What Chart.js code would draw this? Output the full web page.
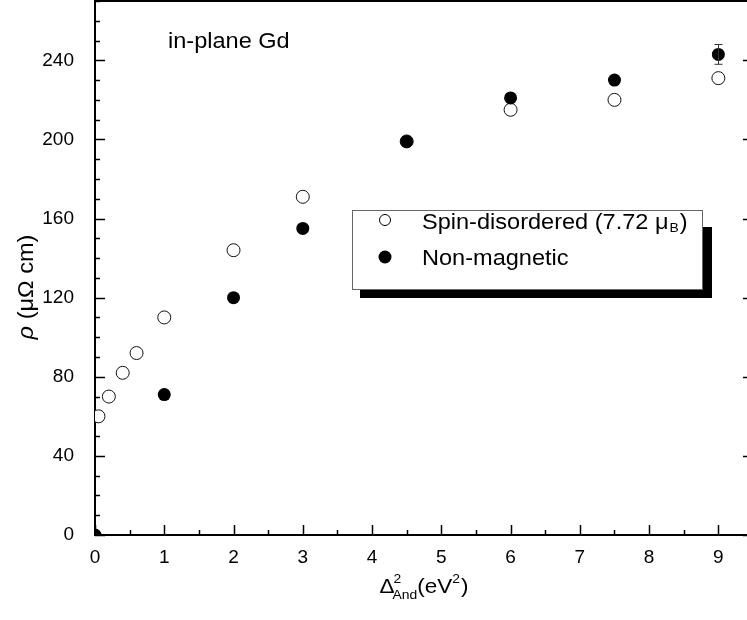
<!DOCTYPE html>
<html>
<head>
<meta charset="utf-8">
<script src="https://cdn.jsdelivr.net/npm/chart.js@4.4.1/dist/chart.umd.min.js"></script>
<style>
  html, body { margin: 0; padding: 0; background: #fff; overflow: hidden; }
  #wrap { width: 747px; height: 620px; overflow: hidden; position: relative; }
  #box { width: 760px; height: 620px; }
</style>
</head>
<body>
<div id="wrap"><div id="box"><canvas id="c"></canvas></div></div>
<script>
// spin-disordered (open circles)
const spinX = [0.05, 0.2, 0.4, 0.6, 1, 2, 3, 4.5, 6, 7.5, 9];
const spinY = [60, 70, 82, 92, 110, 144, 171, 199, 215, 220, 231];
// non-magnetic (filled circles)
const nmX = [0, 1, 2, 3, 4.5, 6, 7.5, 9];
const nmY = [0, 71, 120, 155, 199, 221, 230, 243];
const nmErr = [0, 0, 0, 0, 0, 0, 0, 5];
// tick labels
const xTicks = [0, 1, 2, 3, 4, 5, 6, 7, 8, 9];
const yTicks = [0, 40, 80, 120, 160, 200, 240];

const FONT = "'Liberation Sans', Arial, sans-serif";
const SX = 1.07; // the original lettering is a bit wider than Arial

function pts(xs, ys) { return xs.map((v, i) => ({ x: v, y: ys[i] })); }

// draw text slightly stretched, returns advance width
function txt(ctx, s, x, y, font) {
  ctx.font = font;
  const w = ctx.measureText(s).width * SX;
  ctx.save();
  ctx.translate(x, y);
  ctx.scale(SX, 1);
  ctx.fillText(s, 0, 0);
  ctx.restore();
  return w;
}
function tw(ctx, s, font) { ctx.font = font; return ctx.measureText(s).width * SX; }

const decor = {
  id: 'decor',
  beforeDatasetsDraw(chart) {
    const { ctx, chartArea: a, scales: { x, y } } = chart;
    ctx.save();
    ctx.strokeStyle = '#000';
    ctx.lineWidth = 2;
    ctx.strokeRect(a.left, a.top, a.right - a.left, a.bottom - a.top);
    ctx.lineWidth = 1.5;
    ctx.beginPath();
    for (let v = 0; v <= 9.5 + 1e-9; v += 0.5) {
      const px = Math.round(x.getPixelForValue(v)) + 0.5;
      const len = Number.isInteger(v) ? 10 : 5;
      ctx.moveTo(px, a.bottom); ctx.lineTo(px, a.bottom - len);
    }
    for (let v = 0; v <= 270; v += 10) {
      const py = Math.round(y.getPixelForValue(v)) + 0.5;
      const len = v % 40 === 0 ? 10 : 5;
      ctx.moveTo(a.left, py); ctx.lineTo(a.left + len, py);
      ctx.moveTo(a.right, py); ctx.lineTo(a.right - len, py);
    }
    ctx.stroke();
    ctx.restore();
  },
  afterDatasetsDraw(chart) {
    const { ctx, scales: { x, y } } = chart;
    ctx.save();
    ctx.strokeStyle = '#333';
    ctx.lineWidth = 1;
    nmErr.forEach((e, i) => {
      if (!e) return;
      const px = Math.round(x.getPixelForValue(nmX[i])) + 0.5;
      const top = y.getPixelForValue(nmY[i] + e), bot = y.getPixelForValue(nmY[i] - e);
      ctx.beginPath();
      ctx.moveTo(px, top); ctx.lineTo(px, bot);
      ctx.moveTo(px - 4, top); ctx.lineTo(px + 4, top);
      ctx.moveTo(px - 4, bot); ctx.lineTo(px + 4, bot);
      ctx.stroke();
    });
    ctx.restore();
  },
  afterDraw(chart) {
    const ctx = chart.ctx;
    ctx.save();
    ctx.fillStyle = '#000';
    ctx.textBaseline = 'alphabetic';
    const big = '22px ' + FONT;

    txt(ctx, 'in-plane Gd', 168, 48, big);

    // legend box with shadow
    ctx.fillStyle = '#000';
    ctx.fillRect(360, 227, 352, 71);
    ctx.fillStyle = '#fff';
    ctx.fillRect(352.5, 210.5, 350, 79);
    ctx.strokeStyle = '#666';
    ctx.lineWidth = 1;
    ctx.strokeRect(352.5, 210.5, 350, 79);

    ctx.beginPath();
    ctx.arc(385, 220, 5.5, 0, Math.PI * 2);
    ctx.fillStyle = '#fff'; ctx.fill();
    ctx.strokeStyle = '#000'; ctx.stroke();
    ctx.beginPath();
    ctx.arc(385, 257, 6.5, 0, Math.PI * 2);
    ctx.fillStyle = '#000'; ctx.fill();

    let cx = 422;
    cx += txt(ctx, 'Spin-disordered (7.72 \u03bc', cx, 229, big) + 1;
    cx += txt(ctx, 'B', cx, 232, '13px ' + FONT) + 1;
    txt(ctx, ')', cx, 229, big);
    txt(ctx, 'Non-magnetic', 422, 265, big);

    // x axis title: Δ²_And(eV²)
    const mid = '21px ' + FONT, small = '13px ' + FONT;
    const wD = tw(ctx, '\u0394', mid), wP = tw(ctx, '(eV', mid), wC = tw(ctx, ')', mid);
    const wAnd = tw(ctx, 'And', small), w2 = tw(ctx, '2', small);
    const total = wD - 2 + wAnd + wP + w2 + 1 + wC;
    let xx = 424 - total / 2;
    const base = 593;
    txt(ctx, '\u0394', xx, base, mid);
    xx += wD - 2;
    txt(ctx, '2', xx + 1, base - 10, small);
    txt(ctx, 'And', xx, base + 6, small);
    xx += wAnd;
    txt(ctx, '(eV', xx, base, mid);
    xx += wP;
    txt(ctx, '2', xx, base - 10, small);
    xx += w2 + 1;
    txt(ctx, ')', xx, base, mid);

    // y axis title: ρ (μΩ cm)
    ctx.translate(33, 287);
    ctx.rotate(-Math.PI / 2);
    const it = 'italic 22px ' + FONT;
    const rest = ' (\u03bc\u03a9 cm)';
    const wr = tw(ctx, '\u03c1', it), wrest = tw(ctx, rest, big);
    const yy = -(wr + wrest) / 2;
    txt(ctx, '\u03c1', yy, 0, it);
    txt(ctx, rest, yy + wr, 0, big);
    ctx.restore();
  }
};

new Chart(document.getElementById('c'), {
  type: 'scatter',
  data: {
    datasets: [
      {
        label: 'Non-magnetic',
        data: pts(nmX, nmY),
        order: 0,
        pointRadius: 6.5,
        pointBackgroundColor: '#000',
        pointBorderColor: '#000',
        pointBorderWidth: 0,
        clip: 0
      },
      {
        label: 'Spin-disordered (7.72 \u03bcB)',
        data: pts(spinX, spinY),
        order: 1,
        pointRadius: 6.5,
        pointBackgroundColor: '#fff',
        pointBorderColor: '#111',
        pointBorderWidth: 1,
        clip: 0
      }
    ]
  },
  options: {
    responsive: true,
    maintainAspectRatio: false,
    animation: false,
    layout: { autoPadding: false, padding: { left: 0, right: 7, top: 1, bottom: 0 } },
    plugins: { legend: { display: false }, tooltip: { enabled: false } },
    scales: {
      x: {
        type: 'linear',
        min: 0,
        max: 9.5,
        afterBuildTicks: s => { s.ticks = xTicks.map(v => ({ value: v })); },
        afterFit: s => { s.height = 85; s.paddingLeft = 0; s.paddingRight = 0; },
        grid: { display: false },
        border: { display: false },
        ticks: { color: '#000', padding: 3, maxRotation: 0, autoSkip: false, font: { family: FONT, size: 19 } }
      },
      y: {
        type: 'linear',
        min: 0,
        max: 270,
        afterBuildTicks: s => { s.ticks = yTicks.map(v => ({ value: v })); },
        afterFit: s => { s.width = 95; s.paddingTop = 0; s.paddingBottom = 0; },
        grid: { display: false },
        border: { display: false },
        ticks: { color: '#000', padding: 13, autoSkip: false, font: { family: FONT, size: 19 } }
      }
    }
  },
  plugins: [decor]
});
</script>
</body>
</html>
